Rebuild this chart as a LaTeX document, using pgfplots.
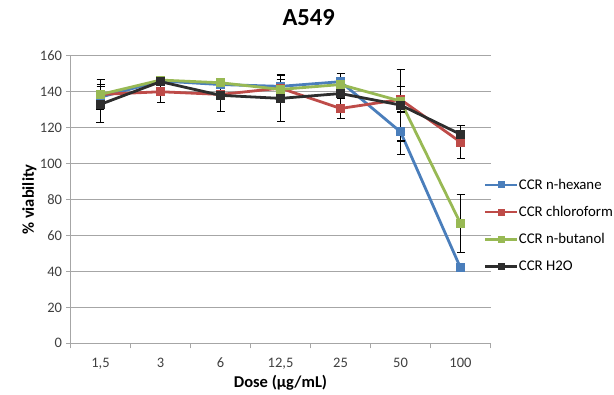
\documentclass[border=0pt]{standalone}
\usepackage{fontspec}
\setmainfont{Carlito}
\usepackage{pgfplots}
\pgfplotsset{compat=1.18}
\definecolor{cblue}{HTML}{4A7EBB}
\definecolor{cred}{HTML}{BE4B48}
\definecolor{cgreen}{HTML}{98B954}
\definecolor{cblack}{HTML}{2D2D2D}
\definecolor{axgray}{HTML}{A6A6A6}
\definecolor{txt}{HTML}{404040}
\begin{document}
\begin{tikzpicture}[x=1bp,y=1bp]
\useasboundingbox (-70.5,-50.7) rectangle (543.5,343.3);
\begin{axis}[
  at={(0,0)}, anchor=south west,
  scale only axis, width=420bp, height=287.5bp,
  xmin=-0.5, xmax=6.5, ymin=0, ymax=160,
  ytick={0,20,...,160},
  xtick={0,...,6},
  xticklabels={{1,5},3,6,{12,5},25,50,100},
  minor xtick={-0.5,0.5,...,6.5},
  x tick style={draw=none},
  minor x tick style={draw=axgray, line width=0.8pt},
  minor tick length=5bp,
  major tick length=4bp,
  y tick style={draw=axgray, line width=0.8pt},
  tick align=outside,
  axis x line*=bottom, axis y line*=left,
  axis line style={draw=axgray, line width=0.8pt, -},
  ymajorgrids, grid style={draw=axgray, line width=0.8pt},
  /pgf/number format/assume math mode=true,
  ticklabel style={font=\fontsize{14.5bp}{16bp}\selectfont, text=txt},
  yticklabel style={xshift=-1bp},
  xticklabel style={yshift=-7bp},
  title={\textbf{A549}},
  title style={font=\fontsize{24.5bp}{28bp}\selectfont, at={(axis description cs:0.567,1.112)}, anchor=center},
  xlabel={\textbf{Dose (µg/mL)}},
  xlabel style={font=\fontsize{16.5bp}{19bp}\selectfont, at={(axis description cs:0.5,-0.138)}, anchor=center},
  ylabel={\textbf{\% viability}},
  ylabel style={font=\fontsize{16.5bp}{19bp}\selectfont, at={(axis description cs:-0.098,0.5)}, anchor=center},
  legend style={draw=none, fill=none, at={(axis description cs:0.984,0.41)}, anchor=west,
    font=\fontsize{14.8bp}{17bp}\selectfont, row sep=13.5bp, inner sep=0pt,
    nodes={inner xsep=0.5bp, inner ysep=1bp},
    /tikz/every odd column/.append style={column sep=0pt}},
  legend cell align=left,
  legend image code/.code={\draw[#1, line width=2.4pt, mark size=3bp, mark repeat=2, mark phase=2] plot coordinates {(0bp,0bp) (16bp,0bp) (32bp,0bp)};},
  every axis plot/.append style={line width=2.8pt, mark=square*, mark size=4bp},
  clip=false,
]
\addplot[cblue, mark options={fill=cblue, draw=cblue, line width=0pt}] coordinates {(0,137) (1,146) (2,144) (3,143) (4,145.6) (5,117.7) (6,42)};
\addlegendentry{CCR n-hexane}
\addplot[cred, mark options={fill=cred, draw=cred, line width=0pt}] coordinates {(0,138.5) (1,140) (2,138.5) (3,142) (4,130.7) (5,135.7) (6,112)};
\addlegendentry{CCR chloroform}
\addplot[cgreen, mark options={fill=cgreen, draw=cgreen, line width=0pt}] coordinates {(0,138.5) (1,146.5) (2,145) (3,141.3) (4,144) (5,134.8) (6,66.7)};
\addlegendentry{CCR n-butanol}
\addplot[cblack, mark options={fill=cblack, draw=cblack, line width=0pt}] coordinates {(0,133) (1,145.6) (2,138) (3,136.3) (4,139) (5,132.6) (6,116.3)};
\addlegendentry{CCR H2O}
% error bars
\addplot[forget plot, draw=none, mark=none, black,
  error bars/.cd, y dir=both, y explicit,
  error bar style={line width=1.2pt, black},
  error mark options={rotate=90, mark size=4bp, line width=1.2pt, black}]
  coordinates {
  (0,133) +- (0,10)
  (0,138.5) +- (0,8.5)
  (0,138.5) +- (0,5.5)
  (1,140) +- (0,6)
  (2,138) +- (0,9)
  (2,145) +- (0,2.5)
  (3,136.3) +- (0,13)
  (3,143) +- (0,4)
  (4,145.6) +- (0,4.5)
  (4,130.7) +- (0,5.4)
  (5,132.6) +- (0,20)
  (5,117.7) +- (0,12.7)
  (5,135.7) +- (0,7)
  (6,112) +- (0,9)
  (6,116.3) +- (0,5)
  (6,66.7) +- (0,16)
  };
\end{axis}
\end{tikzpicture}
\end{document}
